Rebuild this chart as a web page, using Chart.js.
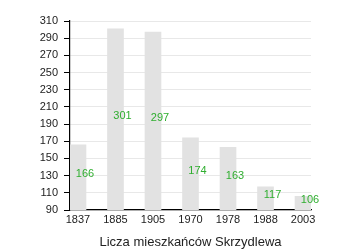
<!DOCTYPE html>
<html>
<head>
<meta charset="utf-8">
<script src="https://cdn.jsdelivr.net/npm/chart.js@4/dist/chart.umd.min.js"></script>
<style>
  body { margin: 0; background: #fff; }
  #wrap { width: 350px; height: 250px; }
</style>
</head>
<body>
<div id="wrap"><canvas id="chart" width="350" height="250"></canvas></div>
<script>
var years = ['1837', '1885', '1905', '1970', '1978', '1988', '2003'];
var residents = [166, 301, 297, 174, 163, 117, 106];
var yTicks = [90, 310, 20]; // min, max, step
var chartTitle = 'Licza mieszkańców Skrzydlewa';

var points = [];
for (var i = 0; i < years.length; i++) {
  points.push({ x: i, y: residents[i] });
}

// numbers in green next to each bar
var valueLabels = {
  id: 'valueLabels',
  afterDatasetsDraw: function(chart) {
    var ctx = chart.ctx;
    var meta = chart.getDatasetMeta(0);
    var bottom = chart.chartArea.bottom;
    ctx.save();
    ctx.font = '11px "Liberation Sans", Arial, sans-serif';
    ctx.fillStyle = '#2fae2f';
    ctx.textAlign = 'center';
    ctx.textBaseline = 'middle';
    meta.data.forEach(function(bar, idx) {
      var base = Math.min(bar.base, bottom);
      ctx.fillText(String(residents[idx]), bar.x + 7, (bar.y + base) / 2 - 3);
    });
    ctx.restore();
  }
};

new Chart(document.getElementById('chart'), {
  type: 'bar',
  data: {
    datasets: [{
      data: points,
      backgroundColor: '#e2e2e2',
      borderWidth: 0,
      barThickness: 16
    }]
  },
  options: {
    responsive: false,
    animation: false,
    layout: { padding: { top: 21, right: 39, bottom: 0, left: 0 } },
    plugins: {
      legend: { display: false },
      tooltip: { enabled: false }
    },
    scales: {
      x: {
        type: 'linear',
        offset: false,
        min: -0.213,
        max: 6.213,
        afterFit: function(scale) { scale.height = 40; },
        grid: { display: false, drawTicks: false, offset: false },
        border: { display: true, color: '#000', width: 1.2 },
        ticks: {
          stepSize: 1,
          includeBounds: false,
          autoSkip: false,
          maxRotation: 0,
          padding: 3,
          color: '#222',
          font: { family: '"Liberation Sans", Arial, sans-serif', size: 11 },
          callback: function(v) { return Number.isInteger(v) ? years[v] : ''; }
        },
        title: {
          display: true,
          text: chartTitle,
          color: '#222',
          padding: { top: 0, bottom: 0 },
          font: { family: '"Liberation Sans", Arial, sans-serif', size: 13 }
        }
      },
      y: {
        min: yTicks[0],
        max: yTicks[1],
        afterFit: function(scale) { scale.width = 70; },
        grid: { color: '#e8e8e8', tickColor: '#000', tickLength: 6, lineWidth: 1 },
        border: { display: true, color: '#000', width: 1.2 },
        ticks: {
          stepSize: yTicks[2],
          padding: 6,
          color: '#222',
          font: { family: '"Liberation Sans", Arial, sans-serif', size: 11 }
        }
      }
    }
  },
  plugins: [valueLabels]
});
</script>
</body>
</html>
